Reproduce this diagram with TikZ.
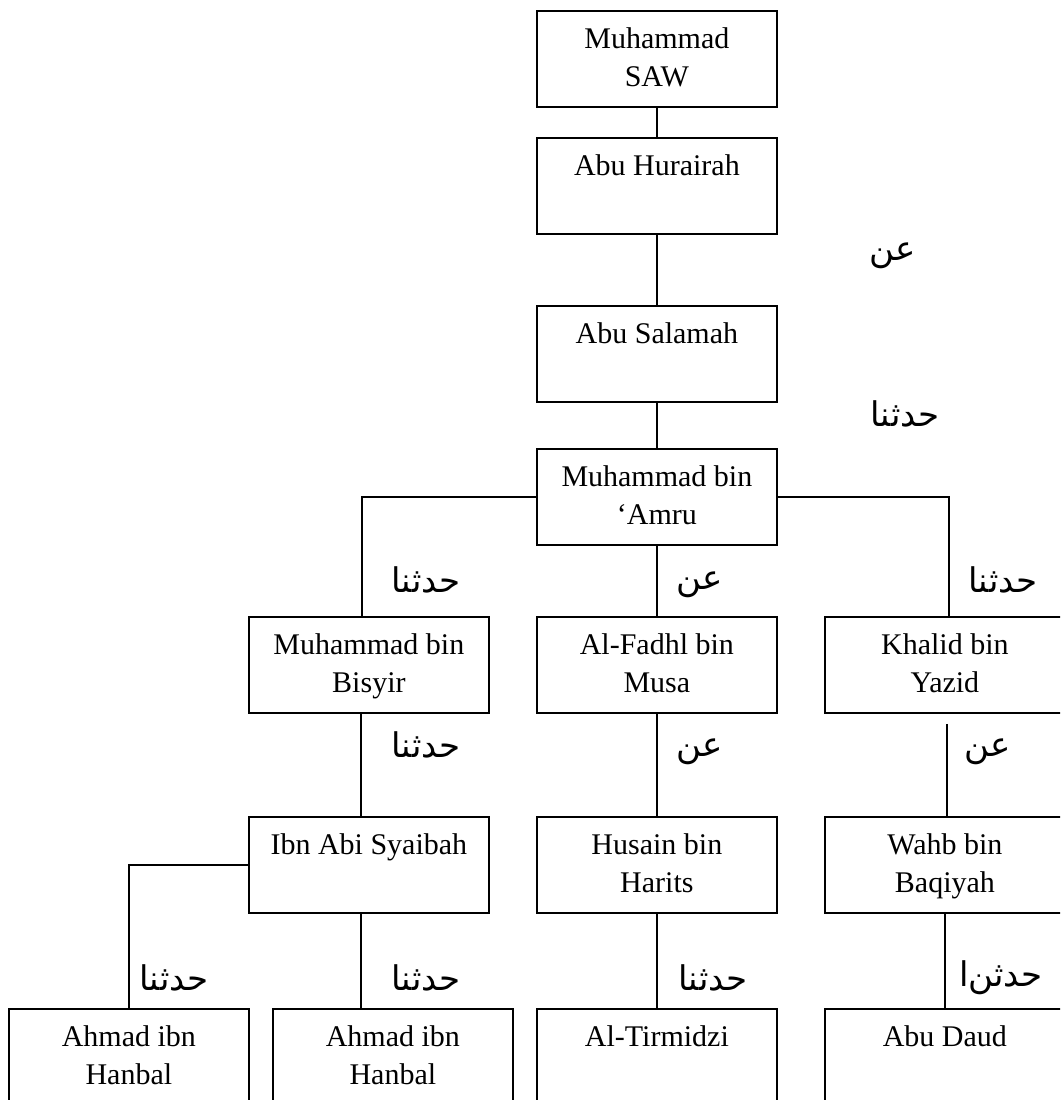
\documentclass[tikz,border=0pt]{standalone}
\usepackage{fontspec}
\setmainfont{Liberation Serif}
\newfontfamily\arabicfont[Script=Arabic]{DejaVu Sans}
\TeXXeTstate=1
\newcommand\boxtext[1]{\parbox[c][96pt][t]{240pt}{\centering\rule{0pt}{38pt}#1}}
\tikzset{
  namebox/.style={draw, line width=1.8pt, inner sep=0pt, anchor=north west,
    font=\fontsize{30}{37.5}\selectfont},
  conn/.style={line width=1.5pt},
  arab/.style={inner sep=0pt, font=\arabicfont\fontsize{34}{36}\selectfont}
}
\begin{document}
\begin{tikzpicture}[x=1pt, y=-1pt]
\useasboundingbox (0,0) rectangle (1060,1100);
\clip (0,0) rectangle (1060,1100);
% boxes
\node[namebox] (saw) at (536,10)   {\boxtext{Muhammad\\SAW}};
\node[namebox] (hur) at (536,137)  {\boxtext{Abu Hurairah}};
\node[namebox] (sal) at (536,305)  {\boxtext{Abu Salamah}};
\node[namebox] (amr) at (536,448)  {\boxtext{Muhammad bin\\‘Amru}};
\node[namebox] (bis) at (248,616)  {\boxtext{Muhammad bin\\Bisyir}};
\node[namebox] (fad) at (536,616)  {\boxtext{Al-Fadhl bin\\Musa}};
\node[namebox] (kha) at (824,616)  {\boxtext{Khalid bin\\Yazid}};
\node[namebox] (ias) at (248,816)  {\boxtext{Ibn Abi Syaibah}};
\node[namebox] (hus) at (536,816)  {\boxtext{Husain bin\\Harits}};
\node[namebox] (wah) at (824,816)  {\boxtext{Wahb bin\\Baqiyah}};
\node[namebox] (ah1) at (8,1008)   {\boxtext{Ahmad ibn\\Hanbal}};
\node[namebox] (ah2) at (272,1008) {\boxtext{Ahmad ibn\\Hanbal}};
\node[namebox] (tir) at (536,1008) {\boxtext{Al-Tirmidzi}};
\node[namebox] (dau) at (824,1008) {\boxtext{Abu Daud}};
% connectors
\draw[conn] (saw.south) -- (hur.north);
\draw[conn] (hur.south) -- (sal.north);
\draw[conn] (sal.south) -- (amr.north);
\draw[conn] (amr.west) -| ([xshift=-7pt]bis.north);
\draw[conn] (amr.south) -- (fad.north);
\draw[conn] (amr.east) -| ([xshift=4pt]kha.north);
\draw[conn] ([xshift=-8pt]bis.south) -- ([xshift=-8pt]ias.north);
\draw[conn] (fad.south) -- (hus.north);
\coordinate (khaIn) at ([xshift=2pt,yshift=-10pt]kha.south);
\draw[conn] (khaIn) -- ([xshift=2pt]wah.north);
\draw[conn] (ias.west) -| (ah1.north);
\draw[conn] ([xshift=-8pt]ias.south) -- ([xshift=-32pt]ah2.north);
\draw[conn] (hus.south) -- (tir.north);
\draw[conn] (wah.south) -- (dau.north);
% labels
\node[arab] (l1) at (893,256) {\beginR عن\endR};
\node[arab] (l2) at (905,414) {\beginR حدثنا\endR};
\node[arab] (l3) at (426,580) {\beginR حدثنا\endR};
\node[arab] (l4) at (700,585) {\beginR عن\endR};
\node[arab] (l5) at (1003,580) {\beginR حدثنا\endR};
\node[arab] (l6) at (426,745) {\beginR حدثنا\endR};
\node[arab] (l7) at (700,752) {\beginR عن\endR};
\node[arab] (l8) at (988,752) {\beginR عن\endR};
\node[arab] (l9) at (174,978) {\beginR حدثنا\endR};
\node[arab] (l10) at (426,978) {\beginR حدثنا\endR};
\node[arab] (l11) at (713,978) {\beginR حدثنا\endR};
\node[arab] (l12) at (1001,978) {\beginR حدثن^^^^200cا\endR};
\end{tikzpicture}
\end{document}
